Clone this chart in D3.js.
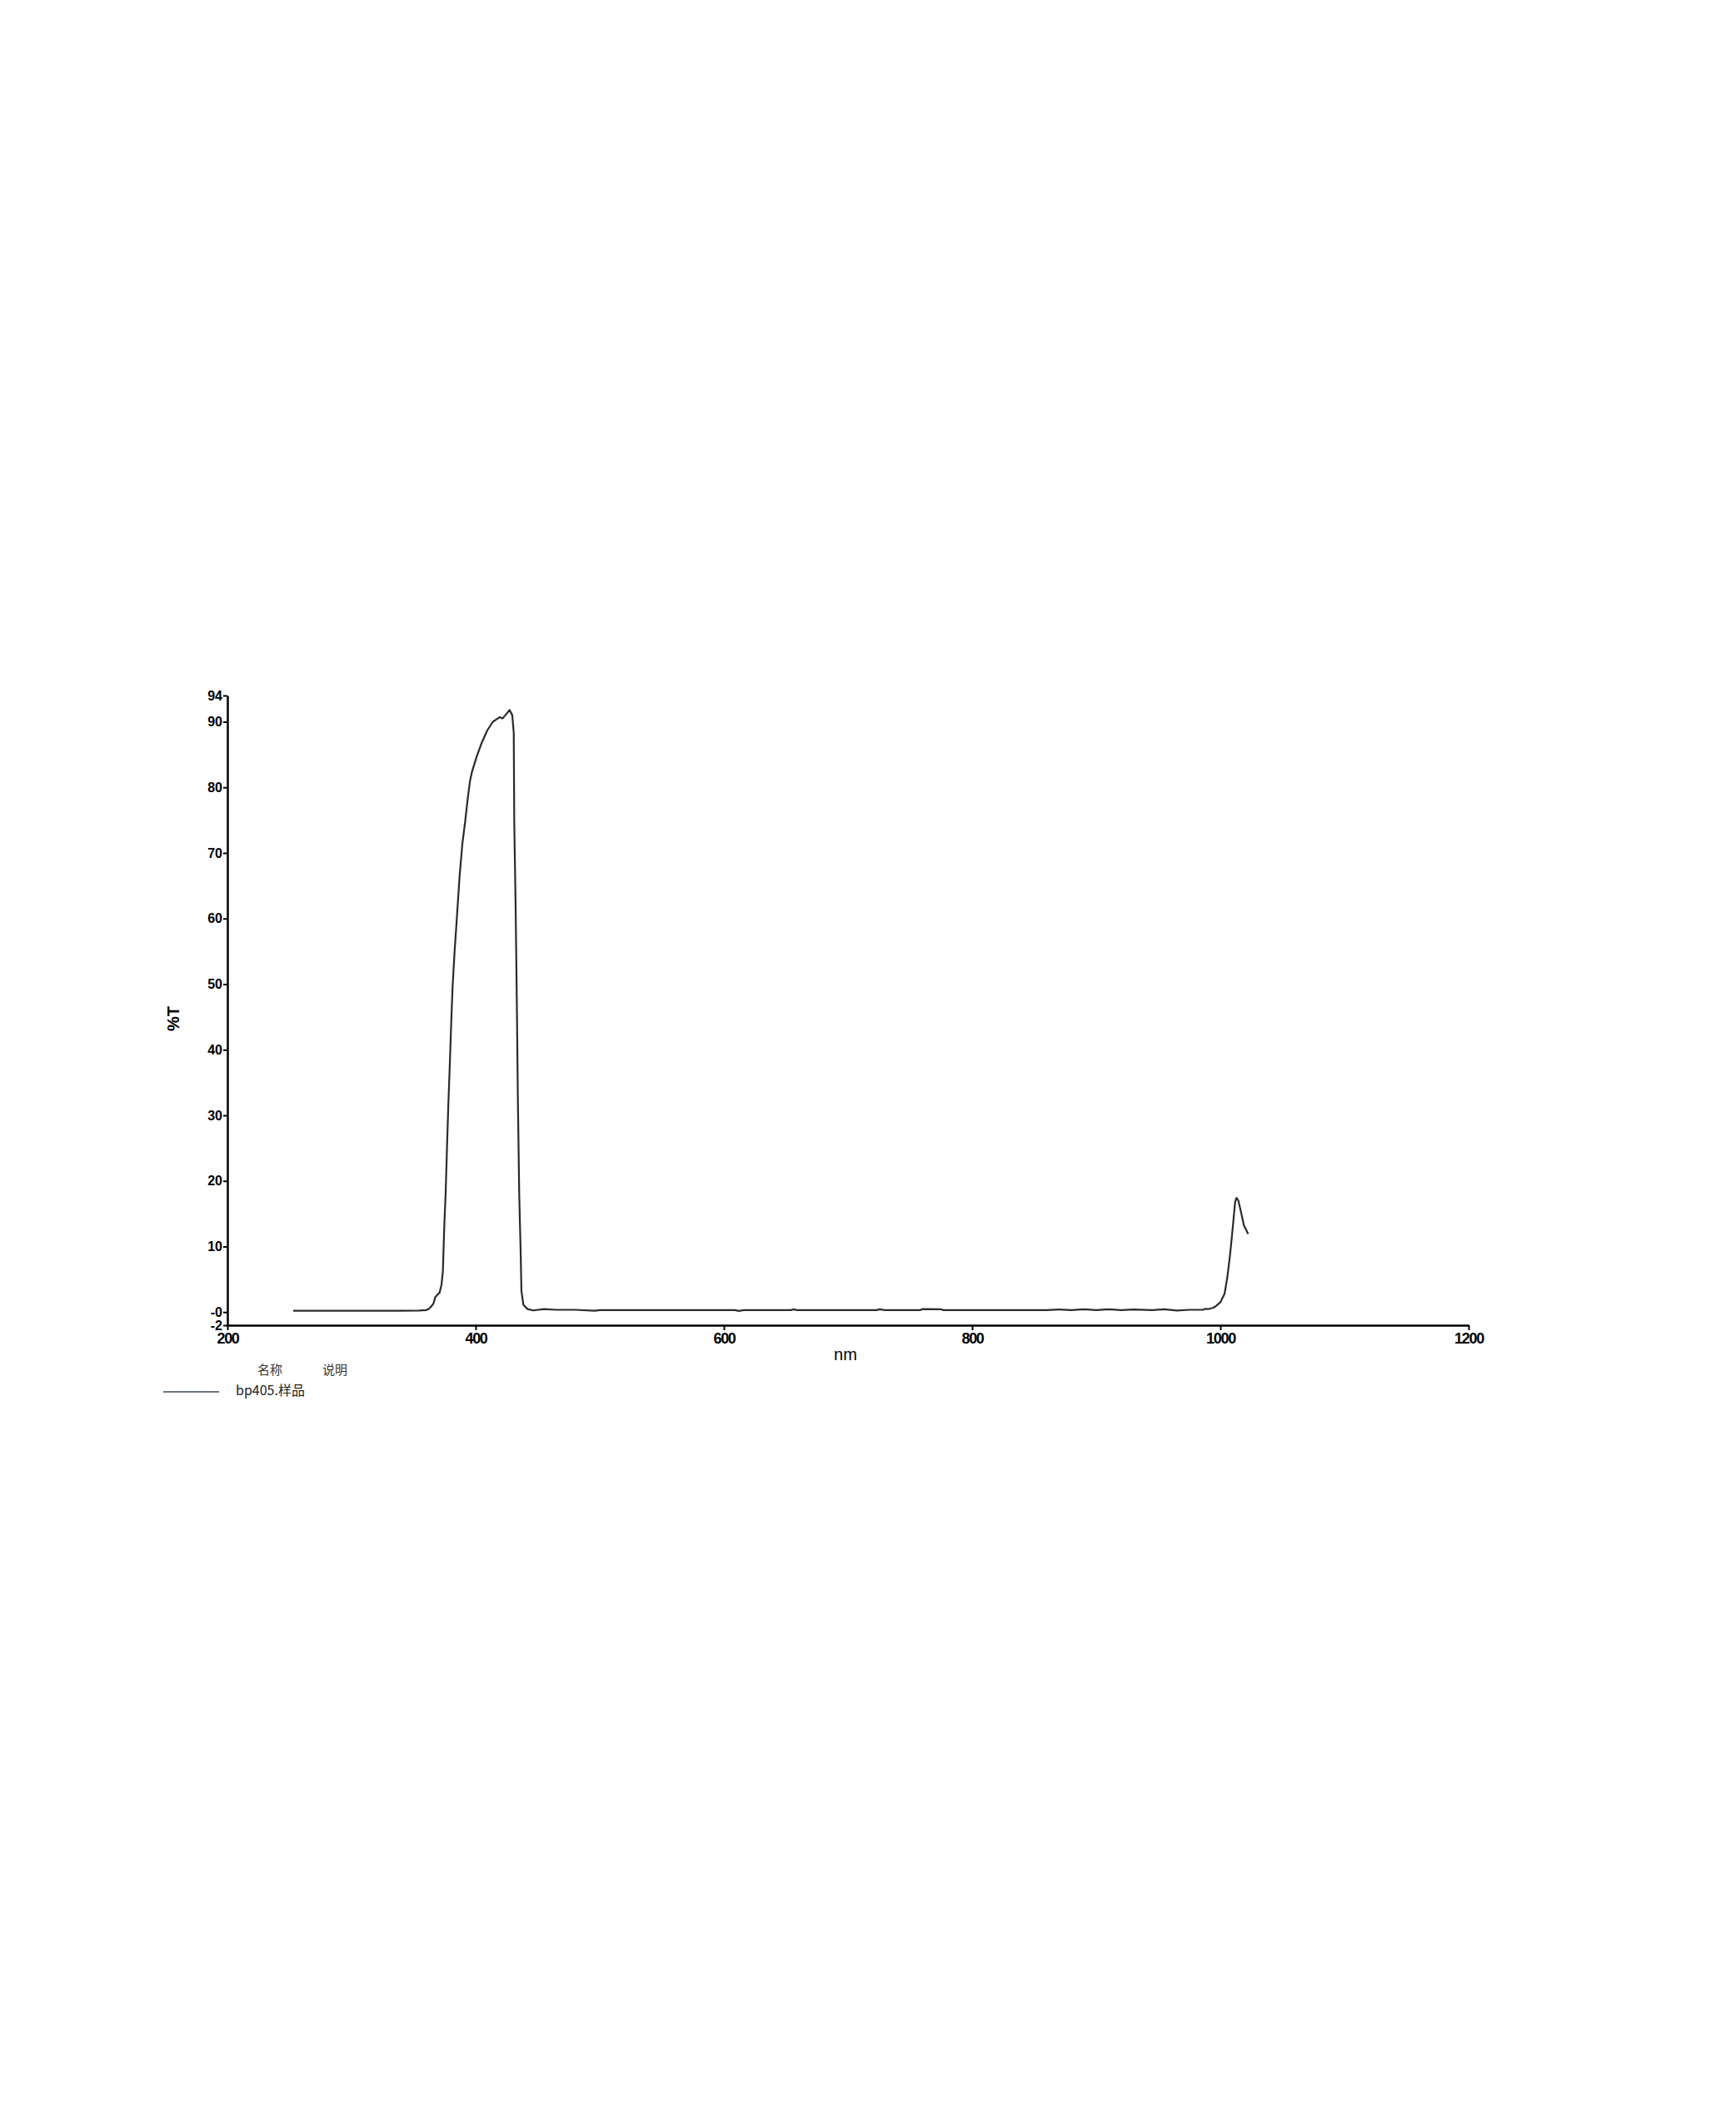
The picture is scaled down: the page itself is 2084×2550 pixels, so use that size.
<!DOCTYPE html>
<html>
<head>
<meta charset="utf-8">
<script src="https://cdn.jsdelivr.net/npm/d3@7"></script>
<style>
  body { margin: 0; background: #fff; }
  svg { display: block; }
</style>
</head>
<body>
<div id="chart"></div>
<script>
// transmission spectrum
const wavelengths = [
  253, 300, 340, 355, 360, 362, 364, 366, 367.5, 369, 371, 372.5, 373.6, 374.7,
  375.8, 377, 378, 379.2, 380.3, 381.4, 383, 384.8, 387, 389.3, 391.5, 393.8,
  395.5, 397.1, 400.5, 404.9, 409.4, 413.9, 417, 419.5, 421.7, 424, 427.3,
  429.5, 430.7, 431.1, 432.2, 433.3, 434, 435.1, 436.2, 436.9, 438.5, 441.8,
  446.3, 455, 465, 480, 496, 500, 505, 560, 609, 612, 616, 624, 654, 656, 659,
  700, 723, 725, 730, 758, 760, 775, 777, 860, 870, 880, 890, 900, 910, 920,
  930, 945, 955, 965, 975, 986, 988, 990, 994.4, 997, 1000, 1003.4, 1005.6,
  1007.8, 1010, 1011.9, 1013, 1014.5, 1016.8, 1019, 1022.4
];
const transmission = [
  0.2, 0.2, 0.2, 0.25, 0.3, 0.45, 0.8, 1.3, 2.3, 2.6, 3.0, 4.2, 6.2, 13,
  18, 25.6, 31.6, 37.9, 44, 49.5, 54.9, 59.9, 66.3, 71.4, 74.7, 78.6,
  81, 82.4, 84.5, 86.8, 88.7, 90.0, 90.4, 90.7, 90.5, 91.0, 91.8,
  91.0, 88.3, 74.7, 62, 45.1, 32.8, 18, 9.6, 3.2, 1.1, 0.46,
  0.25, 0.45, 0.35, 0.35, 0.2, 0.3, 0.3, 0.3, 0.3, 0.18, 0.3, 0.3, 0.3, 0.42, 0.3,
  0.3, 0.3, 0.42, 0.3, 0.3, 0.45, 0.42, 0.3, 0.3, 0.4, 0.3, 0.42, 0.3, 0.42, 0.3,
  0.4, 0.3, 0.42, 0.25, 0.35, 0.35, 0.5, 0.45, 0.67, 1.0, 1.5, 2.8, 5.3,
  8.7, 12.9, 16.8, 17.4, 17.0, 15.1, 13.2, 11.9
];

const xTicks = [200, 400, 600, 800, 1000, 1200];
const xTickLabels = ["200", "400", "600", "800", "1000", "1200"];
const yTicks = [94, 90, 80, 70, 60, 50, 40, 30, 20, 10, 0, -2];
const yTickLabels = ["94", "90", "80", "70", "60", "50", "40", "30", "20", "10", "-0", "-2"];

const legendHeaders = ["名称", "说明"];
const seriesName = "bp405.样品";

const W = 2084, H = 2550;
const plot = { left: 273, right: 1763, top: 835, bottom: 1591 };

const svg = d3.select("#chart")
  .append("svg")
  .attr("width", W)
  .attr("height", H);

const x = d3.scaleLinear()
  .domain([200, 1200])
  .range([plot.left, plot.right]);

const y = d3.scaleLinear()
  .domain([-2, 94])
  .range([plot.bottom, plot.top]);

// axes
const xAxis = svg.append("g")
  .attr("transform", `translate(0,${plot.bottom})`)
  .call(d3.axisBottom(x).tickValues(xTicks)
    .tickFormat((d, i) => xTickLabels[i])
    .tickSize(6).tickSizeOuter(0).tickPadding(3));

xAxis.selectAll("text")
  .attr("font-family", "'Liberation Sans', Arial, sans-serif")
  .attr("font-size", 18)
  .attr("font-weight", "bold")
  .attr("letter-spacing", "-1.3px")
  .attr("fill", "#000");

const yAxis = svg.append("g")
  .attr("transform", `translate(${plot.left},0)`)
  .call(d3.axisLeft(y).tickValues(yTicks)
    .tickFormat((d, i) => yTickLabels[i])
    .tickSize(5).tickSizeOuter(0).tickPadding(1));

yAxis.selectAll("text")
  .attr("font-family", "'Liberation Sans', Arial, sans-serif")
  .attr("font-size", 16)
  .attr("font-weight", "bold")
  .attr("fill", "#000");

svg.selectAll(".domain")
  .attr("stroke", "#000")
  .attr("stroke-width", 2.5);
svg.selectAll(".tick line")
  .attr("stroke", "#000")
  .attr("stroke-width", 2);

// axis titles
svg.append("text")
  .attr("x", 1015)
  .attr("y", 1633)
  .attr("text-anchor", "middle")
  .attr("font-family", "'Liberation Sans', Arial, sans-serif")
  .attr("font-size", 20)
  .attr("fill", "#000")
  .text("nm");

svg.append("text")
  .attr("transform", "translate(215,1223) rotate(-90)")
  .attr("text-anchor", "middle")
  .attr("font-family", "'Liberation Sans', Arial, sans-serif")
  .attr("font-size", 20)
  .attr("font-weight", "bold")
  .attr("fill", "#000")
  .text("%T");

// spectrum
const points = wavelengths.map((w, i) => ({ w, t: transmission[i] }));

svg.append("path")
  .datum(points)
  .attr("fill", "none")
  .attr("stroke", "#2b2b2b")
  .attr("stroke-width", 2.2)
  .attr("stroke-linejoin", "round")
  .attr("d", d3.line().x(d => x(d.w)).y(d => y(d.t)));

// legend
const legendFont = "'Noto Sans CJK SC', 'Liberation Sans', sans-serif";

svg.selectAll(".legend-head")
  .data(legendHeaders)
  .join("text")
  .attr("class", "legend-head")
  .attr("x", (d, i) => 309 + i * 78)
  .attr("y", 1650)
  .attr("font-family", legendFont)
  .attr("font-size", 15)
  .attr("fill", "#333")
  .text(d => d);

svg.append("line")
  .attr("x1", 196).attr("x2", 263)
  .attr("y1", 1671).attr("y2", 1671)
  .attr("stroke", "#6b7685")
  .attr("stroke-width", 2);

svg.append("text")
  .attr("x", 283)
  .attr("y", 1675)
  .attr("font-family", legendFont)
  .attr("font-size", 16)
  .attr("fill", "#222")
  .text(seriesName);
</script>
</body>
</html>
